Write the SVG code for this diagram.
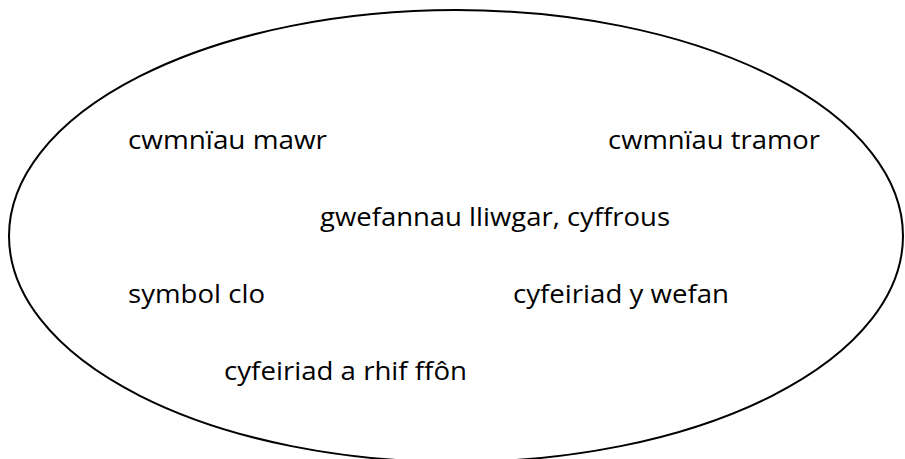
<svg xmlns="http://www.w3.org/2000/svg" width="905" height="459" viewBox="0 0 905 459">
<style>
.t{font-family:"Open Sans","Liberation Sans",sans-serif;font-size:26px;fill:#000}
</style>
<rect width="905" height="459" fill="#fff"/>
<g id="ellipse"><ellipse cx="456" cy="236" rx="447" ry="226" fill="none" stroke="#000" stroke-width="2"/></g>
<g id="n1"><text class="t" x="128" y="149" textLength="199" lengthAdjust="spacingAndGlyphs">cwmnïau mawr</text></g>
<g id="n2"><text class="t" x="608" y="149" textLength="212" lengthAdjust="spacingAndGlyphs">cwmnïau tramor</text></g>
<g id="n3"><text class="t" x="320" y="226" textLength="350" lengthAdjust="spacingAndGlyphs">gwefannau lliwgar, cyffrous</text></g>
<g id="n4"><text class="t" x="128" y="303" textLength="137" lengthAdjust="spacingAndGlyphs">symbol clo</text></g>
<g id="n5"><text class="t" x="513" y="303" textLength="216" lengthAdjust="spacingAndGlyphs">cyfeiriad y wefan</text></g>
<g id="n6"><text class="t" x="224" y="380" textLength="243" lengthAdjust="spacingAndGlyphs">cyfeiriad a rhif ffôn</text></g>
</svg>
